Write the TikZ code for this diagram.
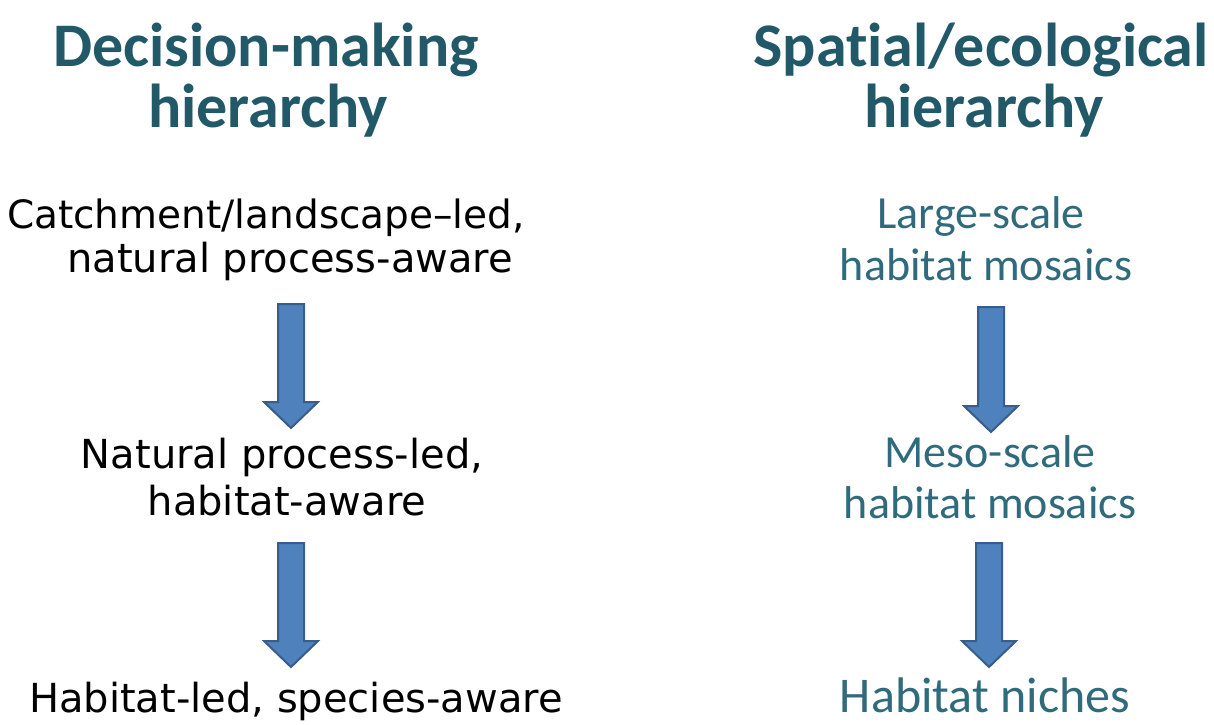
\documentclass[tikz,border=0pt]{standalone}
\usepackage{fontspec}
\setmainfont{Carlito}[Ligatures=NoCommon]
\newfontfamily\bodyfont{DejaVu Sans}
\usetikzlibrary{calc}
\definecolor{headteal}{HTML}{215968}
\definecolor{scaleteal}{HTML}{2F6B7C}
\definecolor{arrowfill}{HTML}{4F81BD}
\definecolor{arrowline}{HTML}{385D8A}
\tikzset{
  heading/.style={anchor=base, inner sep=0pt, text=headteal,
    font=\fontsize{62}{74}\selectfont\bfseries},
  decision/.style={anchor=base, inner sep=0pt, text=black,
    font=\bodyfont\fontsize{40}{48}\selectfont},
  spatial/.style={anchor=base, inner sep=0pt, text=scaleteal,
    font=\fontsize{46}{55}\selectfont},
  blockarrow/.style={fill=arrowfill, draw=arrowline, line width=2pt, line join=miter}
}
% block arrow from a top-centre coordinate down to its tip
\newcommand\downarrowblock[2]{%
  \draw[blockarrow] let \p1=(#1), \p2=(#2) in
    (\x1-13pt,\y1) -- (\x1+13pt,\y1) -- (\x1+13pt,\y2+26pt) -- (\x1+27pt,\y2+26pt)
    -- (\x2,\y2) -- (\x1-27pt,\y2+26pt) -- (\x1-13pt,\y2+26pt) -- cycle;}
\begin{document}
\begin{tikzpicture}[x=1pt,y=-1pt]
  \useasboundingbox (0,0) rectangle (1214,724);
  % column headings
  \node[heading] (h1a) at (266,66) {Decision-making};
  \node[heading] (h1b) at (268,127) {hierarchy};
  \node[heading] (h2a) at (981,66) {Spatial/ecological};
  \node[heading] (h2b) at (984,127) {hierarchy};
  % decision-making levels
  \node[decision, font=\bodyfont\fontsize{39}{47}\selectfont] (d1a) at (266,228) {Catchment/landscape–led,};
  \node[decision] (d1b) at (290,272) {natural process-aware};
  \node[decision] (d2a) at (282,468) {Natural process-led,};
  \node[decision] (d2b) at (287,515) {habitat-aware};
  \node[decision] (d3) at (296,712) {Habitat-led, species-aware};
  % spatial/ecological levels
  \node[spatial] (s1a) at (981,228) {Large-scale};
  \node[spatial] (s1b) at (986,280) {habitat mosaics};
  \node[spatial] (s2a) at (990,467) {Meso-scale};
  \node[spatial] (s2b) at (990,518) {habitat mosaics};
  \node[spatial, font=\fontsize{50}{60}\selectfont] (s3) at (985,712) {Habitat niches};
  % arrow end points
  \coordinate (la1) at (291,304); \coordinate (la1t) at (291,428);
  \coordinate (la2) at (291,543); \coordinate (la2t) at (291,667);
  \coordinate (ra1) at (991,307); \coordinate (ra1t) at (991,432);
  \coordinate (ra2) at (989,543); \coordinate (ra2t) at (989,667);
  \downarrowblock{la1}{la1t}
  \downarrowblock{la2}{la2t}
  \downarrowblock{ra1}{ra1t}
  \downarrowblock{ra2}{ra2t}
\end{tikzpicture}
\end{document}
